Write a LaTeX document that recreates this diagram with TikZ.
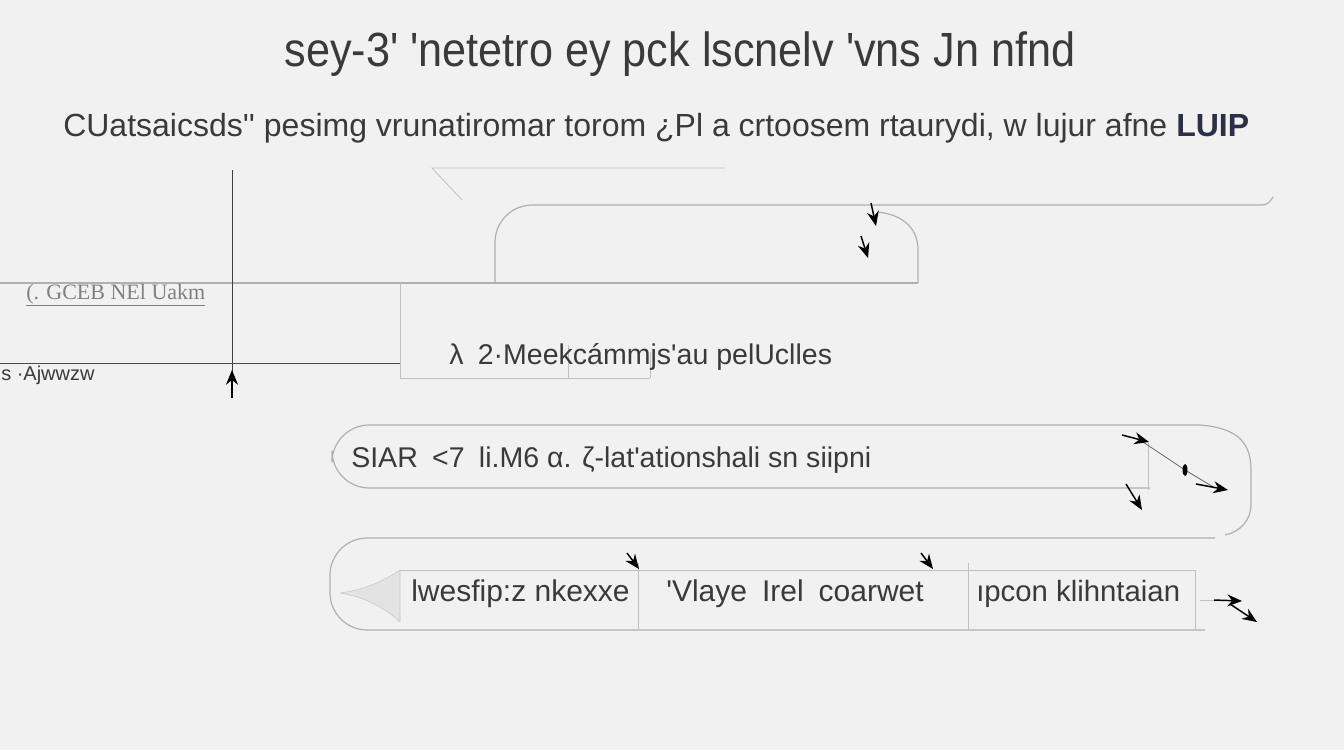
\documentclass[tikz,border=0pt]{standalone}
\usepackage{fontspec}
\setmainfont{Liberation Sans}[Ligatures=TeXOff]
\newfontfamily\serifface{Liberation Serif}
\usetikzlibrary{arrows.meta}

\definecolor{bggray}{HTML}{F1F1F1}
\definecolor{inkgray}{HTML}{3A3A3A}
\definecolor{rulegray}{HTML}{B0B0B4}
\definecolor{navyink}{HTML}{2B3048}

\tikzset{
  frame/.style={draw=rulegray, line width=0.9pt},
  thinframe/.style={draw=rulegray!80, line width=0.6pt},
  tipline/.style={-{Stealth[length=11pt,width=9pt]}, black, line width=1.1pt},
  ttext/.style={inner sep=0.75pt, text=inkgray},
}

\begin{document}
\begin{tikzpicture}[x=0.75pt,y=0.75pt,yscale=-1,xscale=1]
\fill[bggray] (0,0) rectangle (1344,750);
\useasboundingbox (0,0) rectangle (1344,750);

% Text Node
\node[ttext, anchor=base, font=\fontsize{36}{40}\selectfont] (title) at (680,66) {\scalebox{0.9}[1]{sey-3' 'netetro ey pck lscnelv 'vns Jn nfnd}};
% Text Node
\node[ttext, anchor=base west, font=\fontsize{24}{28}\selectfont] (subtitle) at (62,136) {CUatsaicsds'' pesimg vrunatiromar torom ¿Pl a crtoosem rtaurydi, w lujur afne \textcolor{navyink}{\textbf{LUIP}}};

%Straight Lines
\coordinate (gA) at (432,168);
\coordinate (gB) at (725,168);
\coordinate (gC) at (462,200);
\draw[thinframe] (gC) -- (gA) -- (gB);

%Shape: top box
\draw[frame, rounded corners=28] (495,283) -- (495,205) -- (1262,205);
\draw[frame] (1262,205) .. controls (1267,205) and (1270,202) .. (1273,197);
\draw[frame] (878,212) .. controls (905,215) and (918,230) .. (918,250) -- (918,283);
\draw[frame] (0,283) -- (918,283);

%Straight Lines
\coordinate (vTop) at (232,170);
\coordinate (vBot) at (232,378);
\draw[line width=0.7pt, black!75] (vTop) -- (vBot);
\draw[tipline] (232,398) -- (232,370);
\coordinate (hL) at (0,363);
\coordinate (hR) at (400,363);
\draw[line width=0.7pt, black!70] (hL) -- (hR);

%Shape: small box
\draw[thinframe] (400,283) -- (400,378) -- (650,378);
\draw[thinframe] (568,345) -- (568,378);
\draw[thinframe] (650,352) -- (650,378);

% Text Node
\node[inner sep=0.75pt, anchor=base west, text=gray, font=\serifface\fontsize{16.5}{19}\selectfont] (lblgceb) at (25,299) {\underline{(. GCEB NEl Uakm}};
% Text Node
\node[ttext, anchor=base west, font=\fontsize{15}{18}\selectfont] (lblajw) at (0,380) {s ·Ajwwzw};
% Text Node
\node[ttext, anchor=base west, font=\fontsize{21.4}{26}\selectfont] (midlbl) at (448,364) {λ\enspace 2·Meekcámmjs'au pelUclles};

%Shape: first row
\draw[frame, rounded corners=28] (1150,425) -- (332,425) -- (332,488) -- (1150,488);
\draw[thinframe] (1148,443) -- (1148,490);
\draw[frame] (1150,425) -- (1200,425) .. controls (1240,428) and (1251,445) .. (1251,470) -- (1251,505) .. controls (1251,520) and (1240,532) .. (1225,535);
% Text Node
\node[ttext, anchor=base west, font=\fontsize{21.4}{26}\selectfont] (rowtxt) at (350,467) {SIAR\enspace <7\enspace li.M6 α. ζ-lat'ationshali sn siipni};

%Shape: second row
\draw[frame, rounded corners=28] (1205,630) -- (330,630) -- (330,538) -- (1215,538);
\draw[thinframe] (400,570) -- (1195,570) -- (1195,630);
\draw[thinframe] (638,563) -- (638,630);
\draw[thinframe] (968,563) -- (968,630);
\filldraw[fill=gray!22, draw=gray!45] (340,593) .. controls (365,590) and (385,580) .. (400,570) -- (400,622) .. controls (385,608) and (365,597) .. (340,593);
% Text Node
\node[ttext, anchor=base west, font=\fontsize{22.5}{26}\selectfont] (celA) at (410,601) {lwesfip:z nkexxe};
% Text Node
\node[ttext, anchor=base west, font=\fontsize{22.5}{26}\selectfont] (celB) at (665,601) {'Vlaye\enspace Irel\enspace coarwet};
% Text Node
\node[ttext, anchor=base west, font=\fontsize{22}{26}\selectfont] (celC) at (975,601) {ıpcon klihntaian};

%Arrows
\draw[tipline] (871,203) -- (876,226);
\draw[tipline] (861,236) -- (868,258);
\draw[black!60, line width=0.6pt] (1140,440) -- (1185,470) -- (1215,488);
\draw[tipline] (1122,435) -- (1149,442);
\fill[black] (1185,470) ellipse (2.5 and 6);
\draw[tipline] (1196,484) -- (1228,490);
\draw[tipline] (1126,484) -- (1142,510);
\draw[tipline] (627,553) -- (639,569);
\draw[tipline] (921,553) -- (933,569);
\draw[thinframe] (1200,600) -- (1220,600);
\draw[tipline] (1214,600) -- (1242,601);
\draw[tipline] (1230,604) -- (1257,622);

\end{tikzpicture}
\end{document}
